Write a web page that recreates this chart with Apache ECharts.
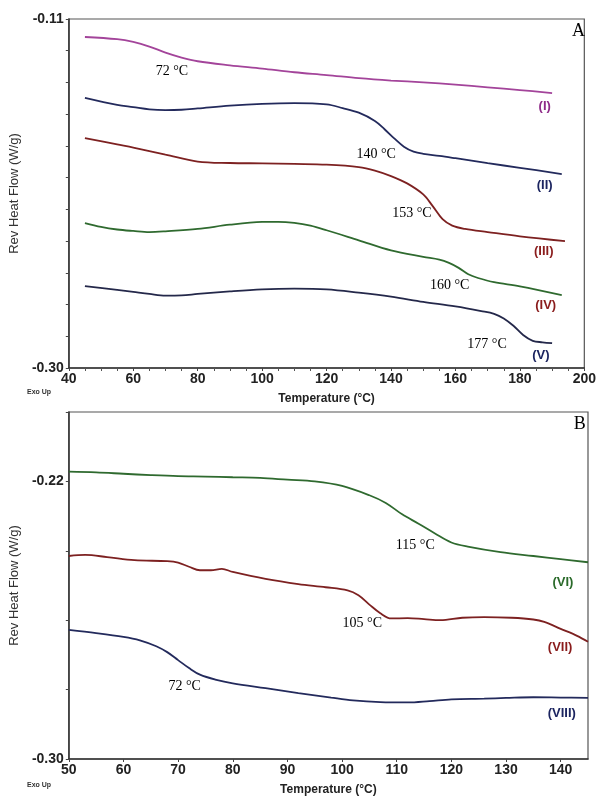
<!DOCTYPE html>
<html><head><meta charset="utf-8">
<script src="https://cdn.jsdelivr.net/npm/echarts@6/dist/echarts.min.js"></script>
<style>html,body{margin:0;padding:0;background:#fff}#c{width:599px;height:797px}</style>
</head><body><div id="c"></div>
<script>
// ---------- Panel A data ----------
const tI   = [45, 55, 60, 65, 70, 75, 80, 90, 100, 110, 120, 130, 140, 150, 160, 170, 180, 190];
const vI   = [-0.1198, -0.1210, -0.1225, -0.1250, -0.1283, -0.1310, -0.1330, -0.1352, -0.1370, -0.1390, -0.1405, -0.1422, -0.1435, -0.1445, -0.1457, -0.1472, -0.1487, -0.1503];
const tII  = [45, 55, 60, 65, 70, 75, 80, 90, 100, 110, 120, 125, 130, 135, 138, 141, 144, 147, 150, 155, 160, 170, 180, 193];
const vII  = [-0.1530, -0.1568, -0.1580, -0.1592, -0.1596, -0.1594, -0.1587, -0.1572, -0.1562, -0.1558, -0.1565, -0.1585, -0.1610, -0.1655, -0.1700, -0.1750, -0.1795, -0.1822, -0.1834, -0.1845, -0.1858, -0.1885, -0.1910, -0.1944];
const tIII = [45, 55, 60, 70, 80, 90, 100, 110, 120, 130, 135, 140, 145, 150, 153, 156, 159, 163, 170, 180, 194];
const vIII = [-0.1748, -0.1783, -0.1800, -0.1838, -0.1876, -0.1884, -0.1886, -0.1889, -0.1893, -0.1906, -0.1925, -0.1955, -0.1995, -0.2055, -0.2120, -0.2190, -0.2225, -0.2243, -0.2260, -0.2283, -0.2309];
const tIV  = [45, 50, 55, 60, 65, 70, 80, 90, 100, 105, 110, 115, 120, 130, 140, 150, 155, 158, 161, 164, 167, 172, 180, 193];
const vIV  = [-0.2211, -0.2232, -0.2246, -0.2254, -0.2260, -0.2256, -0.2243, -0.2220, -0.2205, -0.2204, -0.2210, -0.2225, -0.2250, -0.2305, -0.2360, -0.2395, -0.2410, -0.2428, -0.2455, -0.2490, -0.2510, -0.2533, -0.2555, -0.2603];
const tV   = [45, 55, 60, 65, 70, 75, 80, 90, 100, 110, 120, 130, 140, 150, 160, 168, 172, 175, 178, 181, 184, 187, 190];
const vV   = [-0.2554, -0.2575, -0.2586, -0.2597, -0.2606, -0.2605, -0.2597, -0.2583, -0.2572, -0.2568, -0.2572, -0.2590, -0.2612, -0.2640, -0.2665, -0.2690, -0.2705, -0.2730, -0.2770, -0.2820, -0.2852, -0.2860, -0.2865];

// ---------- Panel B data ----------
const tVI   = [50, 55, 60, 65, 70, 75, 80, 85, 90, 95, 100, 105, 108, 111, 114, 117, 120, 123, 129, 135, 140, 145];
const vVI   = [-0.2172, -0.2174, -0.2178, -0.2182, -0.2185, -0.2186, -0.2188, -0.2190, -0.2195, -0.2200, -0.2213, -0.2240, -0.2262, -0.2295, -0.2322, -0.2350, -0.2376, -0.2388, -0.2404, -0.2415, -0.2424, -0.2433];
const tVII  = [50, 53, 57, 62, 68, 70, 72, 74, 76, 78, 80, 86, 92, 97, 101, 103, 105, 107, 109, 112, 115, 118, 122, 126, 131, 135, 137, 140, 143, 145];
const vVII  = [-0.2415, -0.2412, -0.2418, -0.2427, -0.2430, -0.2434, -0.2446, -0.2456, -0.2456, -0.2452, -0.2461, -0.2481, -0.2496, -0.2505, -0.2514, -0.2528, -0.2555, -0.2580, -0.2595, -0.2594, -0.2597, -0.2600, -0.2593, -0.2591, -0.2593, -0.2598, -0.2605, -0.2625, -0.2645, -0.2662];
const tVIII = [50, 55, 60, 63, 66, 68, 70, 72, 74, 77, 80, 86, 92, 98, 102, 107, 112, 116, 120, 126, 130, 135, 140, 145];
const vVIII = [-0.2628, -0.2637, -0.2648, -0.2658, -0.2675, -0.2692, -0.2715, -0.2738, -0.2757, -0.2772, -0.2782, -0.2796, -0.2810, -0.2823, -0.2831, -0.2836, -0.2837, -0.2833, -0.2828, -0.2826, -0.2824, -0.2822, -0.2823, -0.2824];

// ---------- Axis ticks / labels ----------
const xLabelsA = [40, 60, 80, 100, 120, 140, 160, 180, 200];
const yLabelsA = [-0.30, -0.11];
const yTickCountA = 11;
const xLabelsB = [50, 60, 70, 80, 90, 100, 110, 120, 130, 140];
const yLabelsB = [-0.30, -0.22];
const yTicksB = [-0.30, -0.28, -0.26, -0.24, -0.22, -0.20];

// ---------- Annotations [text, T, value] ----------
const notesA = [['72 °C', 72.0, -0.1383], ['140 °C', 135.4, -0.1835], ['153 °C', 146.5, -0.2156], ['160 °C', 158.2, -0.2548], ['177 °C', 169.8, -0.2869]];
const tagsA  = [['(I)', 187.7, -0.1574], ['(II)', 187.7, -0.2004], ['(III)', 187.4, -0.2363], ['(IV)', 188.0, -0.2657], ['(V)', 186.5, -0.2929]];
const notesB = [['115 °C', 113.4, -0.2384], ['105 °C', 103.7, -0.2610], ['72 °C', 71.2, -0.2791]];
const tagsB  = [['(VI)', 140.4, -0.2490], ['(VII)', 139.9, -0.2679], ['(VIII)', 140.2, -0.2868]];
const panelA = ['A', 198.2, -0.1165];
const panelB = ['B', 143.5, -0.2034];

const colI = '#a3449a', colII = '#232a5c', colIII = '#7d2121', colIV = '#2f6a2f', colV = '#24284a';
const colVI = '#2f6a2f', colVII = '#7d2121', colVIII = '#232a5c';
const tagColA = ['#8e2a88', '#1c2560', '#8a1c1c', '#8a1c1c', '#1c2560'];
const tagColB = ['#2a6a2a', '#8a1c1c', '#1c2560'];

const zip = (t, v) => t.map((x, i) => [x, v[i]]);
const yTicksA = Array.from({length: yTickCountA + 1}, (_, k) => yLabelsA[0] + k * (yLabelsA[1] - yLabelsA[0]) / yTickCountA);

const sans = 'Liberation Sans, Arial, sans-serif';
const serif = 'Liberation Serif, Times New Roman, serif';

function xAxis(gi, min, max, interval, labels, minor) {
  return {
    type: 'value', gridIndex: gi, min, max, interval,
    name: 'Temperature (°C)', nameLocation: 'middle', nameGap: 25,
    nameTextStyle: { fontFamily: sans, fontSize: 12, fontWeight: 'bold', color: '#222' },
    axisLine: { lineStyle: { color: '#333', width: 1.5 } },
    axisTick: { show: true, length: 3, lineStyle: { color: '#444' }, customValues: labels },
    minorTick: minor ? { show: true, splitNumber: 4, length: 3, lineStyle: { color: '#555' } } : { show: false },
    axisLabel: { customValues: labels, margin: 4, fontFamily: sans, fontSize: 14, fontWeight: 'bold', color: '#222' },
    splitLine: { show: false }, minorSplitLine: { show: false }
  };
}
function yAxis(gi, min, max, labels, ticks) {
  return {
    type: 'value', gridIndex: gi, min, max,
    name: 'Rev Heat Flow (W/g)', nameLocation: 'middle', nameGap: 45,
    nameTextStyle: { fontFamily: sans, fontSize: 13, color: '#333' },
    axisLine: { show: true, lineStyle: { color: '#333', width: 1.5 } },
    axisTick: { show: true, length: 3, lineStyle: { color: '#444' }, customValues: ticks },
    axisLabel: { customValues: labels, margin: 5, fontFamily: sans, fontSize: 14, fontWeight: 'bold', color: '#222',
      formatter: v => v.toFixed(2) },
    splitLine: { show: false }
  };
}
function line(gi, data, color) {
  return { type: 'line', xAxisIndex: gi, yAxisIndex: gi, data, smooth: 0.35, showSymbol: false,
    symbol: 'none', silent: true, lineStyle: { color, width: 1.8 } };
}
function textSeries(gi, items, styleFn) {
  return { type: 'scatter', xAxisIndex: gi, yAxisIndex: gi, silent: true, symbolSize: 1,
    itemStyle: { color: 'rgba(0,0,0,0)' },
    data: items.map((it, i) => ({ value: [it[1], it[2]],
      label: Object.assign({ show: true, position: 'inside', formatter: it[0], opacity: 1, textBorderWidth: 0 }, styleFn(i)) })) };
}

const chart = echarts.init(document.getElementById('c'), null, { renderer: 'canvas' });
chart.setOption({
  backgroundColor: '#fff',
  animation: false,
  grid: [
    { left: 68, top: 19, width: 520, height: 349, show: true, borderColor: '#555', borderWidth: 1.2, containLabel: false },
    { left: 68, top: 412, width: 520, height: 349, show: true, borderColor: '#555', borderWidth: 1.2, containLabel: false }
  ],
  xAxis: [xAxis(0, 40, 200, 20, xLabelsA, true), xAxis(1, 50, 145, 10, xLabelsB, false)],
  yAxis: [yAxis(0, -0.30, -0.11, yLabelsA, yTicksA), yAxis(1, -0.30, -0.20, yLabelsB, yTicksB)],
  graphic: [
    { type: 'text', left: 27, top: 389, style: { text: 'Exo Up', fontFamily: sans, fontSize: 7, fontWeight: 'bold', fill: '#333' } },
    { type: 'text', left: 27, top: 782, style: { text: 'Exo Up', fontFamily: sans, fontSize: 7, fontWeight: 'bold', fill: '#333' } }
  ],
  series: [
    line(0, zip(tI, vI), colI),
    line(0, zip(tII, vII), colII),
    line(0, zip(tIII, vIII), colIII),
    line(0, zip(tIV, vIV), colIV),
    line(0, zip(tV, vV), colV),
    line(1, zip(tVI, vVI), colVI),
    line(1, zip(tVII, vVII), colVII),
    line(1, zip(tVIII, vVIII), colVIII),
    textSeries(0, notesA, () => ({ fontFamily: serif, fontSize: 14, color: '#000' })),
    textSeries(0, tagsA, i => ({ fontFamily: sans, fontSize: 13, fontWeight: 'bold', color: tagColA[i] })),
    textSeries(1, notesB, () => ({ fontFamily: serif, fontSize: 14, color: '#000' })),
    textSeries(1, tagsB, i => ({ fontFamily: sans, fontSize: 13, fontWeight: 'bold', color: tagColB[i] })),
    textSeries(0, [panelA], () => ({ fontFamily: serif, fontSize: 18, color: '#000' })),
    textSeries(1, [panelB], () => ({ fontFamily: serif, fontSize: 18, color: '#000' }))
  ]
});
</script>
</body></html>
